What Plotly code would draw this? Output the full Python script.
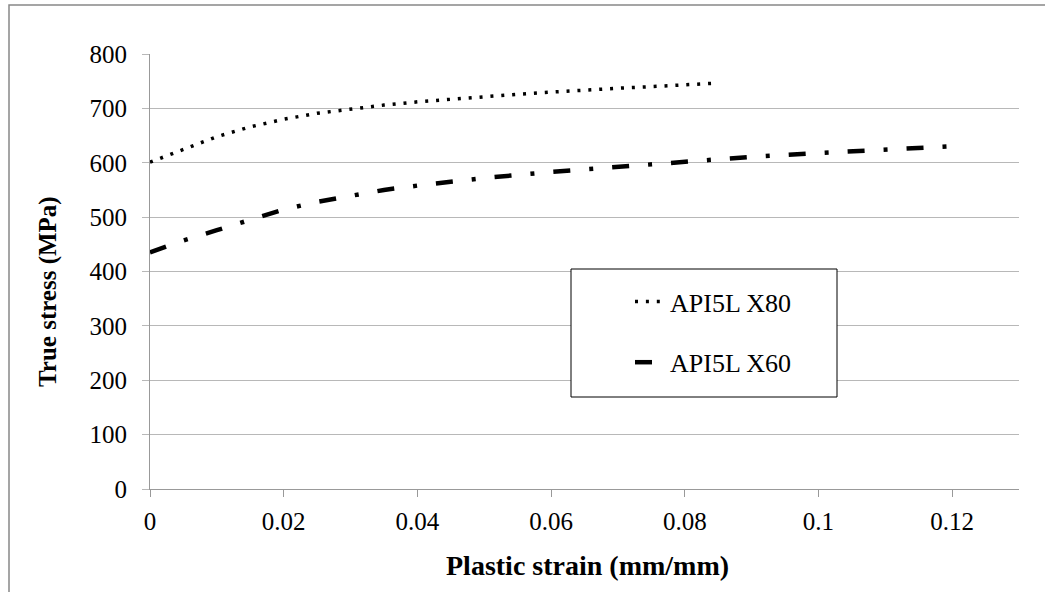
import plotly.graph_objects as go

# Data
x80_strain = [0, 0.005, 0.01, 0.015, 0.02, 0.025, 0.03, 0.035, 0.04, 0.045, 0.05,
              0.055, 0.06, 0.065, 0.07, 0.075, 0.08, 0.0842]
x80_stress = [601, 625, 648, 666, 680, 691, 699, 706, 712, 717, 722,
              726, 730, 734, 737, 740, 743, 746]

x60_strain = [0, 0.005, 0.01, 0.015, 0.02, 0.025, 0.03, 0.035, 0.04, 0.05,
              0.06, 0.07, 0.08, 0.09, 0.1, 0.11, 0.1193]
x60_stress = [435, 457, 476, 494, 514, 528, 540, 550, 558, 572,
              583, 593, 603, 611, 618, 625, 630]

x_ticks = [0, 0.02, 0.04, 0.06, 0.08, 0.1, 0.12]
x_ticklabels = ["0", "0.02", "0.04", "0.06", "0.08", "0.1", "0.12"]
y_ticks = [0, 100, 200, 300, 400, 500, 600, 700, 800]

FONT = "Liberation Serif, Times New Roman, serif"
W, H = 1045, 592
L, R, T, B = 150, 26, 54, 103
PW, PH = W - L - R, H - T - B


def px(xp):
    return (xp - L) / PW


def py(yp):
    return (H - B - yp) / PH


fig = go.Figure()
fig.add_trace(go.Scatter(
    x=x80_strain, y=x80_stress, mode="lines", name="API5L X80",
    line=dict(color="black", width=3.5, dash="3px,7.9px"),
    legendgroup="a"))
fig.add_trace(go.Scatter(
    x=x60_strain, y=x60_stress, mode="lines", name="API5L X60",
    line=dict(color="black", width=4.5, dash="17px,19px,4px,19px"),
    legendgroup="b"))

grid = "#b8b8b8"
TICK = 25
fig.update_layout(
    width=W, height=H,
    margin=dict(l=L, r=R, t=T, b=B),
    paper_bgcolor="white", plot_bgcolor="white",
    font=dict(family=FONT, size=TICK, color="black"),
    showlegend=True,
    legend=dict(x=px(630), y=py(278), xanchor="left", yanchor="top",
                bgcolor="rgba(0,0,0,0)", borderwidth=0,
                tracegroupgap=24, font=dict(size=26, family=FONT)),
    xaxis=dict(range=[0, 0.13], tickvals=x_ticks, ticktext=x_ticklabels,
               showgrid=False, zeroline=False, showline=True, linecolor="#999999",
               linewidth=1, ticks="outside", ticklen=7, tickcolor="#999999",
               ticklabelstandoff=3,
               tickfont=dict(size=TICK, family=FONT)),
    yaxis=dict(range=[0, 800], tickvals=y_ticks, showgrid=True, gridcolor=grid,
               gridwidth=1, zeroline=False, showline=True, linecolor="#999999",
               linewidth=1, ticks="outside", ticklen=7, tickcolor=grid,
               ticklabelstandoff=10,
               tickfont=dict(size=TICK, family=FONT)),
    shapes=[
        dict(type="rect", xref="paper", yref="paper",
             x0=px(9), x1=px(1060), y0=py(610), y1=py(5),
             line=dict(color="#888888", width=1.5), fillcolor="rgba(0,0,0,0)",
             layer="below"),
        dict(type="rect", xref="paper", yref="paper",
             x0=px(571), x1=px(837), y0=py(397), y1=py(269),
             line=dict(color="black", width=1), fillcolor="white",
             layer="above"),
    ],
    annotations=[
        dict(text="<b>Plastic strain (mm/mm)</b>", xref="paper", yref="paper",
             x=px(587), y=py(565), showarrow=False, xanchor="center",
             yanchor="middle", font=dict(size=28, family=FONT)),
        dict(text="<b>True stress (MPa)</b>", xref="paper", yref="paper",
             x=px(48), y=py(292), showarrow=False, xanchor="center",
             yanchor="middle", textangle=-90, font=dict(size=25, family=FONT)),
    ],
)

fig.write_html("out.html")
